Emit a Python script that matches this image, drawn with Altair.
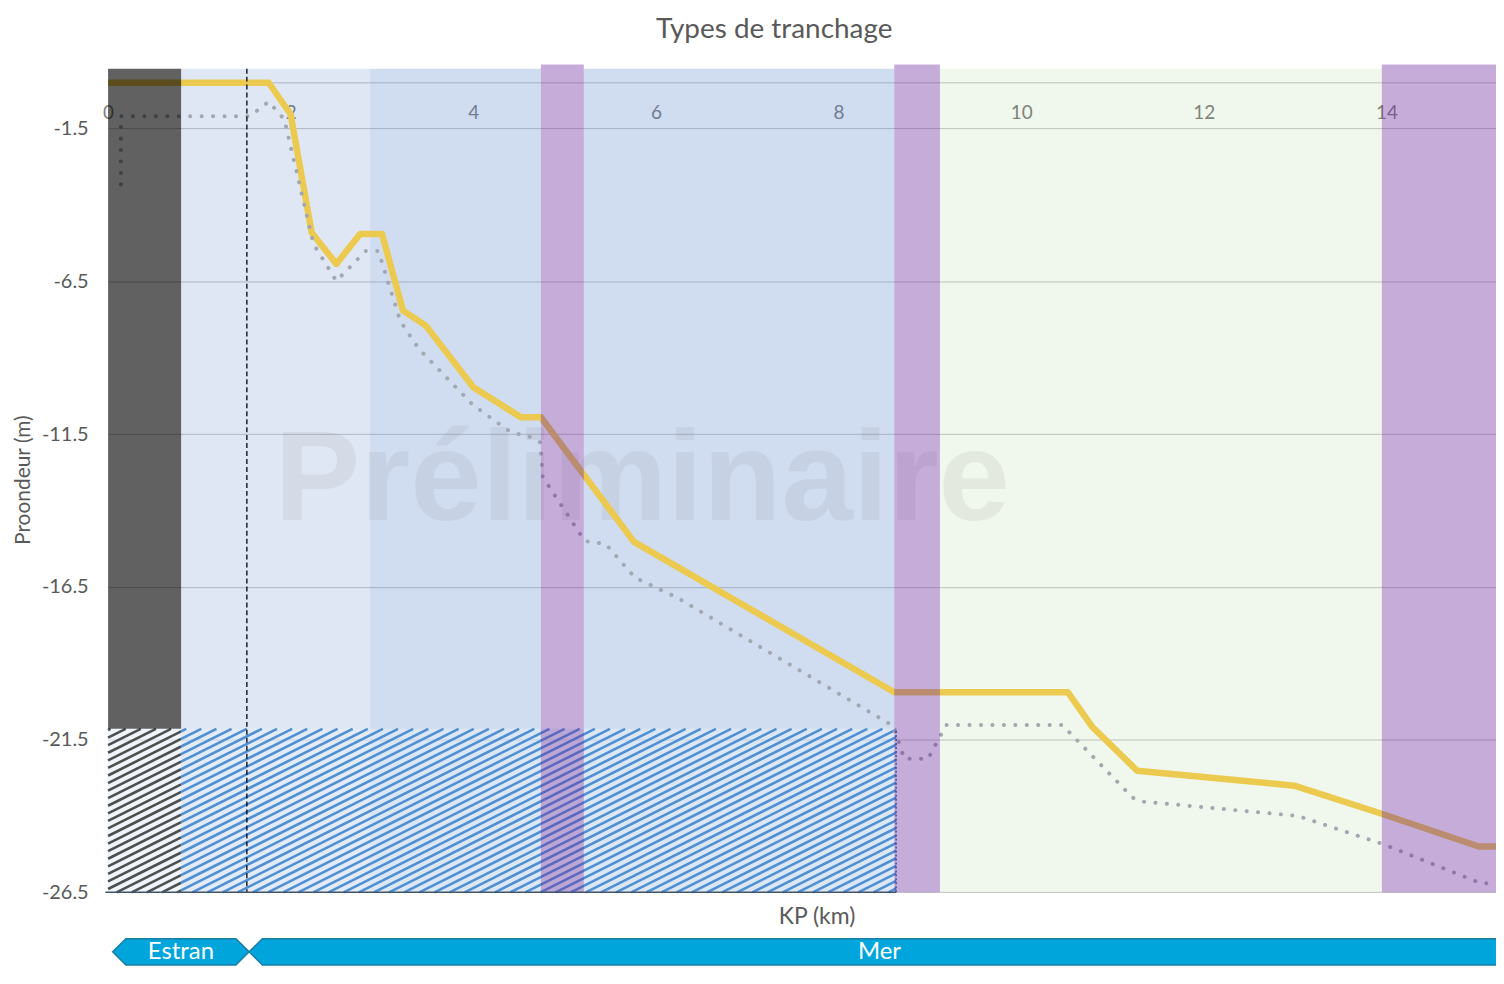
import altair as alt
import pandas as pd

# ---------------- data ----------------
yellow_km = [0.0, 1.76, 2.00, 2.23, 2.50, 2.76, 3.00, 3.23, 3.48, 4.00, 4.52, 4.74,
             5.76, 8.61, 10.51, 10.78, 11.27, 12.99, 13.94, 15.01, 15.22]
yellow_m = [0.0, 0.0, -1.04, -4.91, -5.93, -4.95, -4.95, -7.46, -7.95, -9.97, -10.95, -10.95,
            -15.03, -19.95, -19.95, -21.09, -22.52, -23.01, -23.92, -25.0, -25.0]

dotted_km = [0.14, 0.14, 1.55, 1.76, 1.93, 2.25, 2.50, 2.82, 2.96, 3.20, 3.40, 4.00, 4.41,
             4.63, 4.73, 4.76, 5.22, 5.45, 5.77, 6.23, 8.60, 8.72, 8.98, 9.18, 10.45,
             11.22, 11.33, 13.03, 13.97, 15.03, 15.17]
dotted_m = [-3.33, -1.10, -1.10, -0.62, -1.20, -5.28, -6.49, -5.51, -5.51, -7.80, -8.70,
            -10.56, -11.44, -11.60, -11.77, -12.90, -15.00, -15.10, -16.20, -16.85, -21.06,
            -22.13, -22.13, -21.02, -21.02, -23.40, -23.53, -24.00, -24.93, -26.20, -26.20]

band_start = [0.00, 0.80, 2.87, 4.74, 5.21, 8.61, 9.11, 13.95]
band_end = [0.80, 2.87, 4.74, 5.21, 8.61, 9.11, 13.95, 15.20]
band_kind = ["dark", "light", "medium", "purple", "medium", "purple", "green", "purple"]
band_top = [0.46, 0.46, 0.46, 0.60, 0.46, 0.60, 0.46, 0.60]
band_bottom = [-21.15, -26.5, -26.5, -26.5, -26.5, -26.5, -26.5, -26.5]

hatch_x = [0.0, 8.63]
hatch_y = [-26.5, -21.15]
hatch_split = 0.80
estran_limit_km = 1.52

zone_names = ["Estran", "Mer"]
zone_start = [0.05, 1.545]
zone_end = [1.545, 15.35]

x_ticks = [0, 2, 4, 6, 8, 10, 12, 14]
y_ticks = [0, -1.5, -6.5, -11.5, -16.5, -21.5, -26.5]
watermark = "Préliminaire"

# ---------------- layout / style ----------------
X_DOM = [0, 15.2]
Y_DOM = [-26.5, 0.6]
PX_X = 91.7
PX_Y = 30.68
W = (X_DOM[1] - X_DOM[0]) * PX_X
H = (Y_DOM[1] - Y_DOM[0]) * PX_Y
FONT = "Lato"

kind_color = {"dark": "#000000", "light": "#4472C4", "medium": "#4472C4",
              "purple": "#7030A0", "green": "#70AD47"}
kind_opacity = {"dark": 0.62, "light": 0.17, "medium": 0.25, "purple": 0.4, "green": 0.1}

XS = alt.Scale(domain=X_DOM, nice=False, zero=False)
YS = alt.Scale(domain=Y_DOM, nice=False, zero=False)

bands = pd.DataFrame({"start": band_start, "end": band_end, "kind": band_kind,
                      "top": band_top, "bottom": band_bottom})
bands["color"] = bands["kind"].map(kind_color)
bands["opacity"] = bands["kind"].map(kind_opacity)
under = bands[bands["kind"].isin(["light", "medium", "green"])]
over = bands[bands["kind"].isin(["dark", "purple"])]

yellow = pd.DataFrame({"km": yellow_km, "m": yellow_m, "i": range(len(yellow_km))})
dotted = pd.DataFrame({"km": dotted_km, "m": dotted_m, "i": range(len(dotted_km))})

# hatch stripes (pattern geometry derived from the hatched zone bounds)
k = 0.5 * PX_X / PX_Y
step = 7.6 / PX_Y
rows = []
c = hatch_y[0] - k * hatch_x[1] + step / 2
while c < hatch_y[1]:
    xa = max(hatch_x[0], (hatch_y[0] - c) / k)
    xb = min(hatch_x[1], (hatch_y[1] - c) / k)
    if xb > xa:
        for lo, hi, col in [(hatch_x[0], hatch_split, "#4f4f4f"), (hatch_split, hatch_x[1], "#4F8FD3")]:
            a, b = max(xa, lo), min(xb, hi)
            if b > a:
                rows.append({"x": a, "x2": b, "y": c + k * a, "y2": c + k * b, "col": col})
    c += step
stripes = pd.DataFrame(rows)

hatch_box = pd.DataFrame({"x": [hatch_x[0]], "x2": [hatch_x[1]], "y": [hatch_y[0]], "y2": [hatch_y[1]]})

# banners (kept inside the visible page height)
mid, half, tip = -28.45, 0.43, 0.145
brow = []
for n, s, e in zip(zone_names, zone_start, zone_end):
    brow += [{"name": n, "x": s, "y": mid, "y2": mid},
             {"name": n, "x": s + tip, "y": mid + half, "y2": mid - half},
             {"name": n, "x": e - tip, "y": mid + half, "y2": mid - half},
             {"name": n, "x": e, "y": mid, "y2": mid}]
banner = pd.DataFrame(brow)
banner_txt = pd.DataFrame({"name": zone_names,
                           "x": [(s + e) / 2 for s, e in zip(zone_start, zone_end)],
                           "y": [mid, mid]})


def xq(f):
    return alt.X(f, type="quantitative", scale=XS)


def yq(f):
    return alt.Y(f, type="quantitative", scale=YS)


x_axis = alt.Axis(orient="top", values=x_ticks, format="d", offset=-58, ticks=False, tickSize=0,
                  domain=False, grid=False, labelPadding=0, labelFlush=False,
                  labelFontSize=19, labelColor="#7f7f7f", labelFont=FONT, labelAngle=0,
                  title="KP (km)", titleX=711.5, titleY=798, titleBaseline="middle",
                  titleAlign="center", titleAngle=0, titleFontSize=23, titleFont=FONT,
                  titleFontWeight="normal", titleColor="#595959", zindex=0)
y_axis = alt.Axis(values=y_ticks,
                  labelExpr="datum.value == 0 ? '' : '-' + format(abs(datum.value), '.1f')",
                  grid=True, gridColor="#c4c4c4", gridWidth=1, ticks=False, tickSize=0,
                  domain=False, labelPadding=20, labelFontSize=20, labelColor="#595959",
                  labelFont=FONT, title="Proondeur (m)", titleFontSize=21, titleFont=FONT,
                  titleFontWeight="normal", titleColor="#595959", titleX=-84.5, titleY=417,
                  titleBaseline="middle", titleAngle=-90, zindex=0)

l_under = alt.Chart(under).mark_rect().encode(
    x=alt.X("start:Q", scale=XS, axis=x_axis), x2="end:Q",
    y=alt.Y("top:Q", scale=YS, axis=y_axis), y2="bottom:Q",
    color=alt.Color("color:N", scale=None), opacity=alt.Opacity("opacity:Q", scale=None))

l_hfill = alt.Chart(hatch_box).mark_rect(color="#e4eff9", opacity=0.6).encode(
    x=xq("x"), x2="x2:Q", y=yq("y"), y2="y2:Q")

l_stripes = alt.Chart(stripes).mark_rule(strokeWidth=2.6).encode(
    x=xq("x"), x2="x2:Q", y=yq("y"), y2="y2:Q", color=alt.Color("col:N", scale=None))

l_wm = alt.Chart(pd.DataFrame({"t": [watermark], "x": [5.85], "y": [-14.3]})).mark_text(
    font="Liberation Sans", fontWeight="bold", fontSize=129, color="#7f7f7f", opacity=0.11,
    align="center", baseline="alphabetic").encode(x=xq("x"), y=yq("y"), text="t:N")

l_yellow = alt.Chart(yellow).mark_line(color="#ECCA50", strokeWidth=6.5, strokeJoin="round").encode(
    x=xq("km"), y=yq("m"), order="i:Q")

l_dotted = alt.Chart(dotted).mark_line(color="#a3a7b1", strokeWidth=4, strokeDash=[0.1, 11.4],
                                       strokeCap="round").encode(
    x=xq("km"), y=yq("m"), order="i:Q")

l_over = alt.Chart(over).mark_rect().encode(
    x=xq("start"), x2="end:Q", y=yq("top"), y2="bottom:Q",
    color=alt.Color("color:N", scale=None), opacity=alt.Opacity("opacity:Q", scale=None))

l_dash = alt.Chart(pd.DataFrame({"x": [estran_limit_km], "y": [band_top[0]], "y2": [-26.5]})).mark_rule(
    color="black", strokeWidth=1.3, strokeDash=[5, 3]).encode(x=xq("x"), y=yq("y"), y2="y2:Q")

l_bottom = alt.Chart(pd.DataFrame({"x": [hatch_x[0] - 0.03], "x2": [hatch_x[1]], "y": [hatch_y[0]]})).mark_rule(
    color="#44546A", strokeWidth=1.4).encode(x=xq("x"), x2="x2:Q", y=yq("y"))

l_right = alt.Chart(pd.DataFrame({"x": [hatch_x[1]], "y": [hatch_y[0]], "y2": [hatch_y[1]]})).mark_rule(
    color="#2F5597", strokeWidth=1.5, strokeDash=[2, 2]).encode(x=xq("x"), y=yq("y"), y2="y2:Q")

l_banner = alt.Chart(banner).mark_area(color="#00A5DB", stroke="#1A7EA6", strokeWidth=1.5,
                                       opacity=1, orient="vertical").encode(
    x=xq("x"), y=yq("y"), y2="y2:Q", detail="name:N")

l_btxt = alt.Chart(banner_txt).mark_text(color="white", fontSize=24, font=FONT,
                                          baseline="middle", align="center").encode(
    x=xq("x"), y=yq("y"), text="name:N")

chart = alt.layer(
    l_under, l_hfill, l_stripes, l_wm, l_yellow, l_dotted, l_over, l_dash, l_bottom, l_right,
    l_banner, l_btxt
).properties(
    width=W, height=H,
    autosize=alt.AutoSizeParams(type="none"),
    padding={"left": 100.5, "top": 54.6, "right": 0, "bottom": 74},
    title=alt.Title("Types de tranchage", anchor="middle", frame="group", dx=-28, offset=-7,
                    fontSize=28, font=FONT, fontWeight="normal", color="#595959", baseline="bottom"),
    background="white",
).configure_view(stroke=None)

chart.save("out.html", embed_options={"renderer": "svg", "actions": False})
